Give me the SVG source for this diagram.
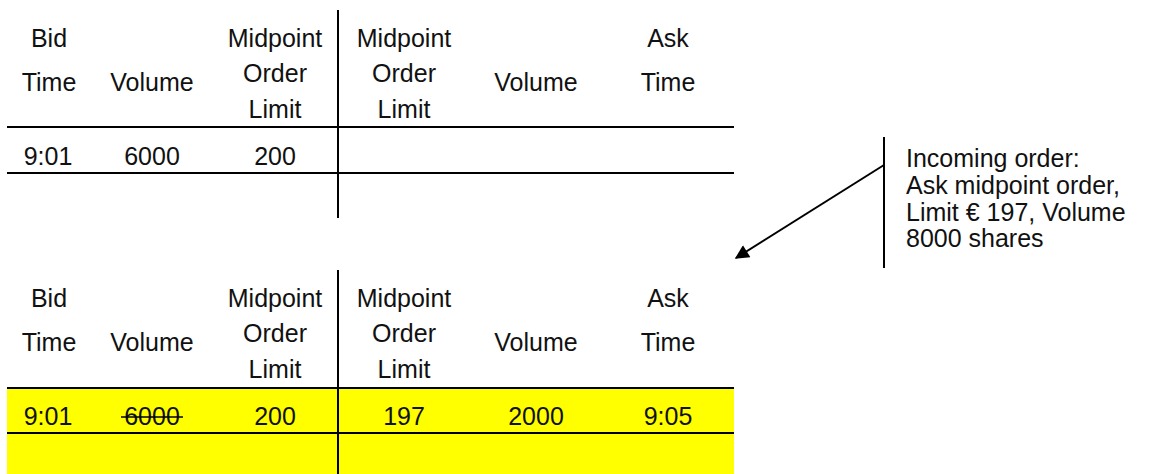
<svg xmlns="http://www.w3.org/2000/svg" width="1151" height="474" viewBox="0 0 1151 474">
  <style>
    text { font-family: "Liberation Sans", Arial, sans-serif; font-size: 25px; fill: #111; }
    .c { text-anchor: middle; }
    .ln { stroke: #000; stroke-width: 2; fill: none; }
    .callout { font-size: 25px; }
  </style>
  <defs>
    <marker id="arr" viewBox="0 0 10 10" refX="9" refY="5" markerWidth="8" markerHeight="7" markerUnits="strokeWidth" orient="auto">
      <path d="M0,0 L10,5 L0,10 z" fill="#000"/>
    </marker>
  </defs>
  <rect width="1151" height="474" fill="#fff"/>

  <g id="table-before">
    <line class="ln" x1="338" y1="10" x2="338" y2="218"/>
    <line class="ln" x1="7" y1="127" x2="734" y2="127"/>
    <line class="ln" x1="7" y1="173" x2="734" y2="173"/>
    <text class="c" x="49" y="47">Bid</text>
    <text class="c" x="49" y="91">Time</text>
    <text class="c" x="152" y="91">Volume</text>
    <text class="c" x="275" y="47">Midpoint</text>
    <text class="c" x="275" y="82">Order</text>
    <text class="c" x="275" y="118">Limit</text>
    <text class="c" x="404" y="47">Midpoint</text>
    <text class="c" x="404" y="82">Order</text>
    <text class="c" x="404" y="118">Limit</text>
    <text class="c" x="536" y="91">Volume</text>
    <text class="c" x="668" y="47">Ask</text>
    <text class="c" x="668" y="91">Time</text>
    <text class="c" x="48" y="165">9:01</text>
    <text class="c" x="152" y="165">6000</text>
    <text class="c" x="275" y="165">200</text>
  </g>

  <g id="table-after">
    <rect x="7" y="388" width="727" height="86" fill="#ffff00"/>
    <line class="ln" x1="338" y1="270" x2="338" y2="474"/>
    <line class="ln" x1="7" y1="388" x2="734" y2="388"/>
    <line class="ln" x1="7" y1="433" x2="734" y2="433"/>
    <text class="c" x="49" y="307">Bid</text>
    <text class="c" x="49" y="351">Time</text>
    <text class="c" x="152" y="351">Volume</text>
    <text class="c" x="275" y="307">Midpoint</text>
    <text class="c" x="275" y="342">Order</text>
    <text class="c" x="275" y="378">Limit</text>
    <text class="c" x="404" y="307">Midpoint</text>
    <text class="c" x="404" y="342">Order</text>
    <text class="c" x="404" y="378">Limit</text>
    <text class="c" x="536" y="351">Volume</text>
    <text class="c" x="668" y="307">Ask</text>
    <text class="c" x="668" y="351">Time</text>
    <text class="c" x="48" y="425">9:01</text>
    <text class="c" x="152" y="425">6000</text>
    <line x1="121" y1="417" x2="183" y2="417" stroke="#000" stroke-width="1.5"/>
    <text class="c" x="275" y="425">200</text>
    <text class="c" x="404" y="425">197</text>
    <text class="c" x="536" y="425">2000</text>
    <text class="c" x="668" y="425">9:05</text>
  </g>

  <g id="incoming-order">
    <line class="ln" x1="884" y1="137" x2="884" y2="268"/>
    <text class="callout" x="906" y="167">Incoming order:</text>
    <text class="callout" x="906" y="194">Ask midpoint order,</text>
    <text class="callout" x="906" y="221">Limit € 197, Volume</text>
    <text class="callout" x="906" y="247">8000 shares</text>
  </g>

  <g id="connectors">
    <line class="ln" x1="884" y1="165" x2="736" y2="258" marker-end="url(#arr)"/>
  </g>
</svg>
